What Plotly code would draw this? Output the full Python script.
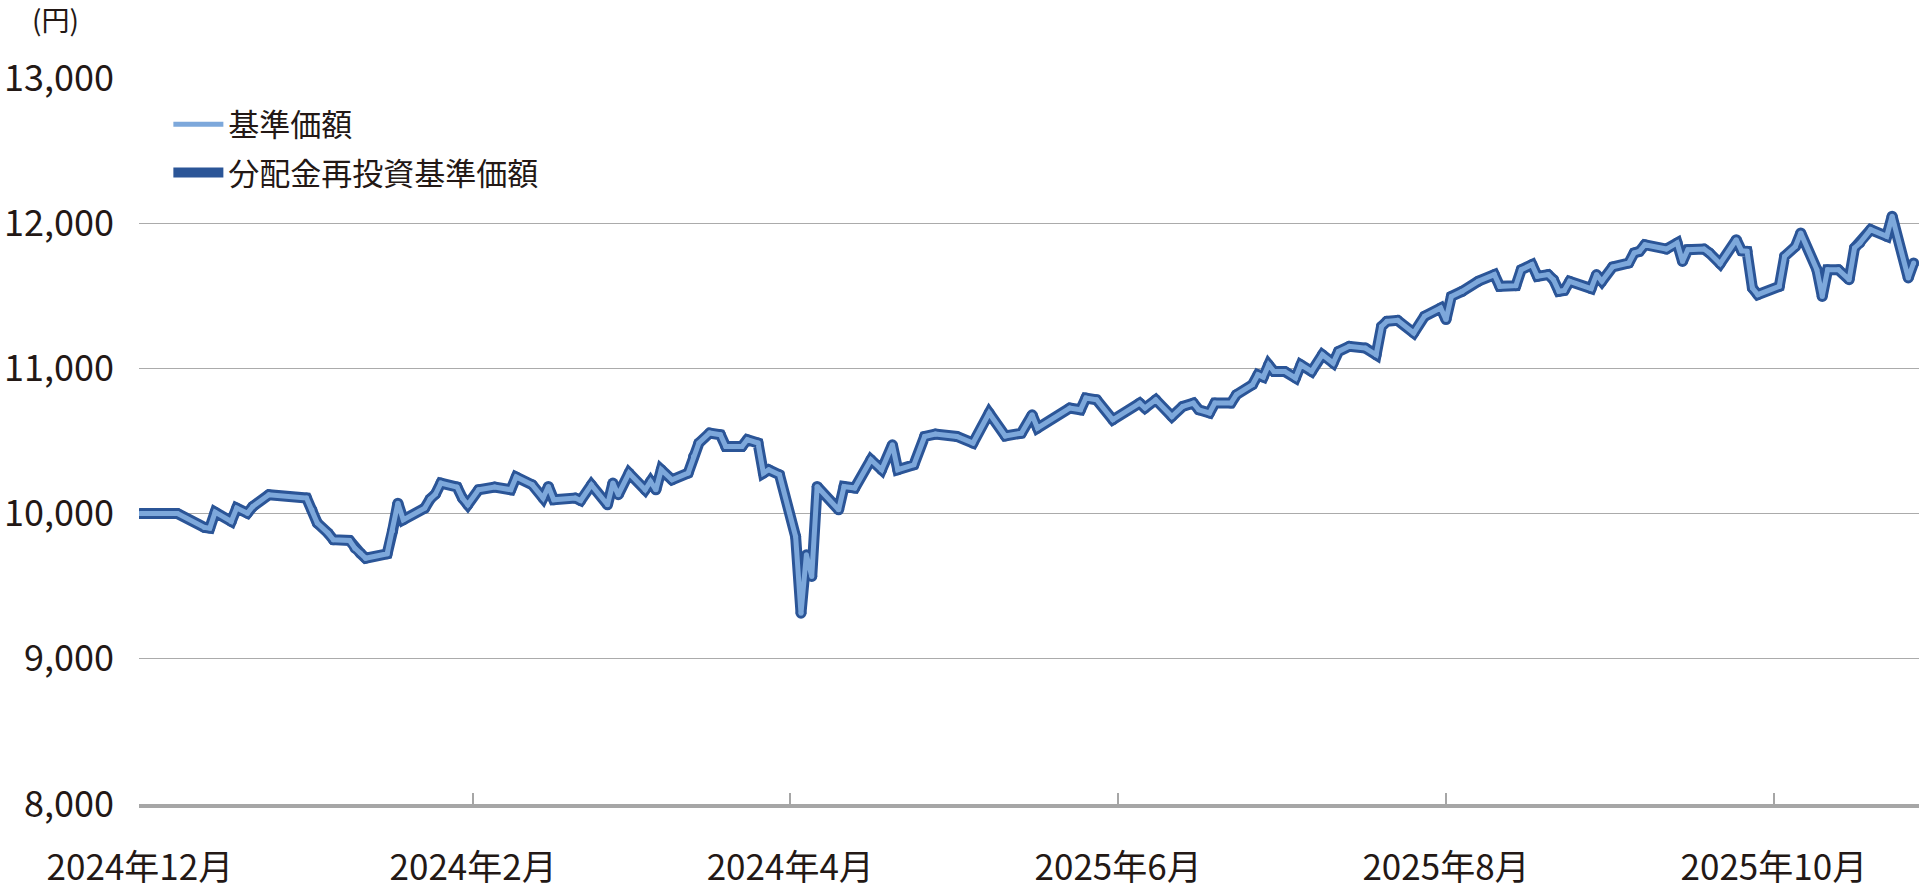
import plotly.graph_objects as go

# ---- data ----
dates = [
    "2024-12-01", "2024-12-08", "2024-12-13", "2024-12-14", "2024-12-15", "2024-12-18",
    "2024-12-19", "2024-12-21", "2024-12-22", "2024-12-25", "2025-01-01", "2025-01-02",
    "2025-01-03", "2025-01-05", "2025-01-06", "2025-01-09", "2025-01-10", "2025-01-11",
    "2025-01-12", "2025-01-16", "2025-01-17", "2025-01-18", "2025-01-19", "2025-01-23",
    "2025-01-24", "2025-01-25", "2025-01-26", "2025-01-29", "2025-01-30", "2025-01-31",
    "2025-02-02", "2025-02-05", "2025-02-08", "2025-02-09", "2025-02-12", "2025-02-14",
    "2025-02-15", "2025-02-16", "2025-02-20", "2025-02-21", "2025-02-23", "2025-02-26",
    "2025-02-27", "2025-02-28", "2025-03-02", "2025-03-05", "2025-03-06", "2025-03-07",
    "2025-03-08", "2025-03-10", "2025-03-13", "2025-03-14", "2025-03-15", "2025-03-17",
    "2025-03-19", "2025-03-20", "2025-03-23", "2025-03-24", "2025-03-26", "2025-03-27",
    "2025-03-28", "2025-03-30", "2025-04-02", "2025-04-03", "2025-04-04", "2025-04-05",
    "2025-04-06", "2025-04-10", "2025-04-11", "2025-04-13", "2025-04-16", "2025-04-18",
    "2025-04-20", "2025-04-21", "2025-04-24", "2025-04-26", "2025-04-28", "2025-05-02",
    "2025-05-05", "2025-05-08", "2025-05-11", "2025-05-14", "2025-05-16", "2025-05-17",
    "2025-05-23", "2025-05-25", "2025-05-26", "2025-05-28", "2025-05-31", "2025-06-05",
    "2025-06-06", "2025-06-08", "2025-06-11", "2025-06-13", "2025-06-15", "2025-06-16",
    "2025-06-18", "2025-06-19", "2025-06-22", "2025-06-23", "2025-06-26", "2025-06-27",
    "2025-06-28", "2025-06-29", "2025-06-30", "2025-07-02", "2025-07-04", "2025-07-05",
    "2025-07-07", "2025-07-09", "2025-07-11", "2025-07-12", "2025-07-14", "2025-07-17",
    "2025-07-19", "2025-07-20", "2025-07-21", "2025-07-23", "2025-07-26", "2025-07-28",
    "2025-07-31", "2025-08-01", "2025-08-02", "2025-08-04", "2025-08-07", "2025-08-10",
    "2025-08-11", "2025-08-14", "2025-08-15", "2025-08-17", "2025-08-18", "2025-08-20",
    "2025-08-21", "2025-08-22", "2025-08-23", "2025-08-24", "2025-08-28", "2025-08-29",
    "2025-08-30", "2025-09-01", "2025-09-04", "2025-09-05", "2025-09-06", "2025-09-07",
    "2025-09-11", "2025-09-13", "2025-09-14", "2025-09-15", "2025-09-18", "2025-09-19",
    "2025-09-21", "2025-09-24", "2025-09-25", "2025-09-26", "2025-09-27", "2025-09-28",
    "2025-10-02", "2025-10-03", "2025-10-05", "2025-10-06", "2025-10-09", "2025-10-10",
    "2025-10-11", "2025-10-13", "2025-10-15", "2025-10-16", "2025-10-17", "2025-10-19",
    "2025-10-22", "2025-10-23", "2025-10-26", "2025-10-27",
]

nav = [
    10000, 10000, 9905, 9900, 10010, 9946,
    10038, 10003, 10049, 10130, 10107, 10026,
    9935, 9866, 9820, 9815, 9762, 9728,
    9693, 9723, 9880, 10072, 9957, 10038,
    10100, 10135, 10210, 10183, 10107, 10061,
    10164, 10183, 10164, 10252, 10198, 10107,
    10187, 10095, 10107, 10090, 10198, 10061,
    10210, 10130, 10279, 10164, 10221, 10164,
    10302, 10233, 10279, 10393, 10486, 10555,
    10543, 10462, 10462, 10509, 10486, 10279,
    10302, 10267, 9842, 9314, 9716, 9567,
    10187, 10026, 10187, 10176, 10371, 10302,
    10474, 10302, 10336, 10531, 10548, 10531,
    10486, 10693, 10535, 10554, 10680, 10589,
    10727, 10715, 10796, 10784, 10646, 10761,
    10727, 10784, 10669, 10738, 10761, 10715,
    10693, 10761, 10761, 10819, 10888, 10956,
    10940, 11025, 10979, 10979, 10934, 11025,
    10979, 11094, 11037, 11117, 11152, 11140,
    11094, 11289, 11324, 11331, 11244, 11359,
    11416, 11336, 11496, 11531, 11600, 11646,
    11565, 11570, 11680, 11715, 11634, 11646,
    11611, 11531, 11537, 11600, 11550, 11646,
    11600, 11699, 11726, 11795, 11806, 11852,
    11822, 11864, 11737, 11818, 11822, 11795,
    11721, 11886, 11810, 11806, 11554, 11508,
    11565, 11772, 11840, 11933, 11680, 11496,
    11680, 11680, 11611, 11829, 11864, 11956,
    11910, 12048, 11623, 11726,
]

# No distributions were paid, so the reinvested NAV equals the NAV
nav_reinvested = list(nav)

series_names = ["基準価額", "分配金再投資基準価額"]

x_tick_dates = ["2024-12-01", "2025-02-01", "2025-04-01", "2025-06-01", "2025-08-01", "2025-10-01"]
x_tick_labels = ["2024年12月", "2024年2月", "2024年4月", "2025年6月", "2025年8月", "2025年10月"]
y_ticks = [8000, 9000, 10000, 11000, 12000, 13000]

# ---- styling ----
FONT = "Noto Sans CJK JP"
TEXT = "#231815"
LIGHT = "#7DA8DB"
DARK = "#2B5597"
GRID = "#ABABAB"
DARK_W = 11
LIGHT_W = 5

fig = go.Figure()
# dark outer line (drawn first, underneath)
fig.add_trace(go.Scatter(
    x=dates, y=nav_reinvested, mode="lines", name=series_names[1],
    line=dict(color=DARK, width=DARK_W),
    legendrank=2, legendgroup="b",
))
# round joints for the dark line
fig.add_trace(go.Scatter(
    x=dates, y=nav_reinvested, mode="markers", showlegend=False, hoverinfo="skip",
    marker=dict(color=DARK, size=DARK_W, line=dict(width=0)), legendgroup="b",
))
# light inner line on top
fig.add_trace(go.Scatter(
    x=dates, y=nav, mode="lines", name=series_names[0],
    line=dict(color=LIGHT, width=LIGHT_W),
    legendrank=1, legendgroup="a",
))
fig.add_trace(go.Scatter(
    x=dates, y=nav, mode="markers", showlegend=False, hoverinfo="skip",
    marker=dict(color=LIGHT, size=LIGHT_W, line=dict(width=0)), legendgroup="a",
))

fig.update_layout(
    width=1920, height=889,
    margin=dict(l=139, r=1, t=78, b=85),
    paper_bgcolor="white", plot_bgcolor="white",
    font=dict(family=FONT, color=TEXT),
    showlegend=True,
    legend=dict(
        x=0.0165, y=0.973, xanchor="left", yanchor="top",
        font=dict(family=FONT, size=31, color=TEXT),
        bgcolor="rgba(0,0,0,0)", itemwidth=50,
        traceorder="grouped", tracegroupgap=5,
    ),
    xaxis=dict(
        type="date", automargin=False,
        range=["2024-11-30 20:00", "2025-10-28 00:00"],
        tickmode="array", tickvals=x_tick_dates, ticktext=x_tick_labels,
        showgrid=False, zeroline=False,
        showline=True, linecolor="#A6A6A6", linewidth=4,
        ticks="inside", ticklen=11, tickwidth=1.5, tickcolor="#A6A6A6",
        tickfont=dict(family=FONT, size=35, color=TEXT),
        ticklabelstandoff=30,
    ),
    yaxis=dict(
        range=[8000, 13000], automargin=False,
        tickmode="array", tickvals=y_ticks,
        tickformat=",d",
        showgrid=True, gridcolor=GRID, gridwidth=1.2,
        zeroline=False, showline=False, ticks="",
        tickfont=dict(family=FONT, size=36, color=TEXT),
        ticklabelstandoff=24,
    ),
    annotations=[dict(
        text="(円)", xref="paper", yref="paper",
        x=-0.047, y=1.0813, xanchor="center", yanchor="middle",
        showarrow=False, font=dict(family=FONT, size=28, color=TEXT),
    )],
)

# remove the browser's default 8px body margin so the figure sits at the page origin
fig.write_html(
    "out.html",
    config={"displayModeBar": False},
    post_script="document.body.style.margin='0';",
)
